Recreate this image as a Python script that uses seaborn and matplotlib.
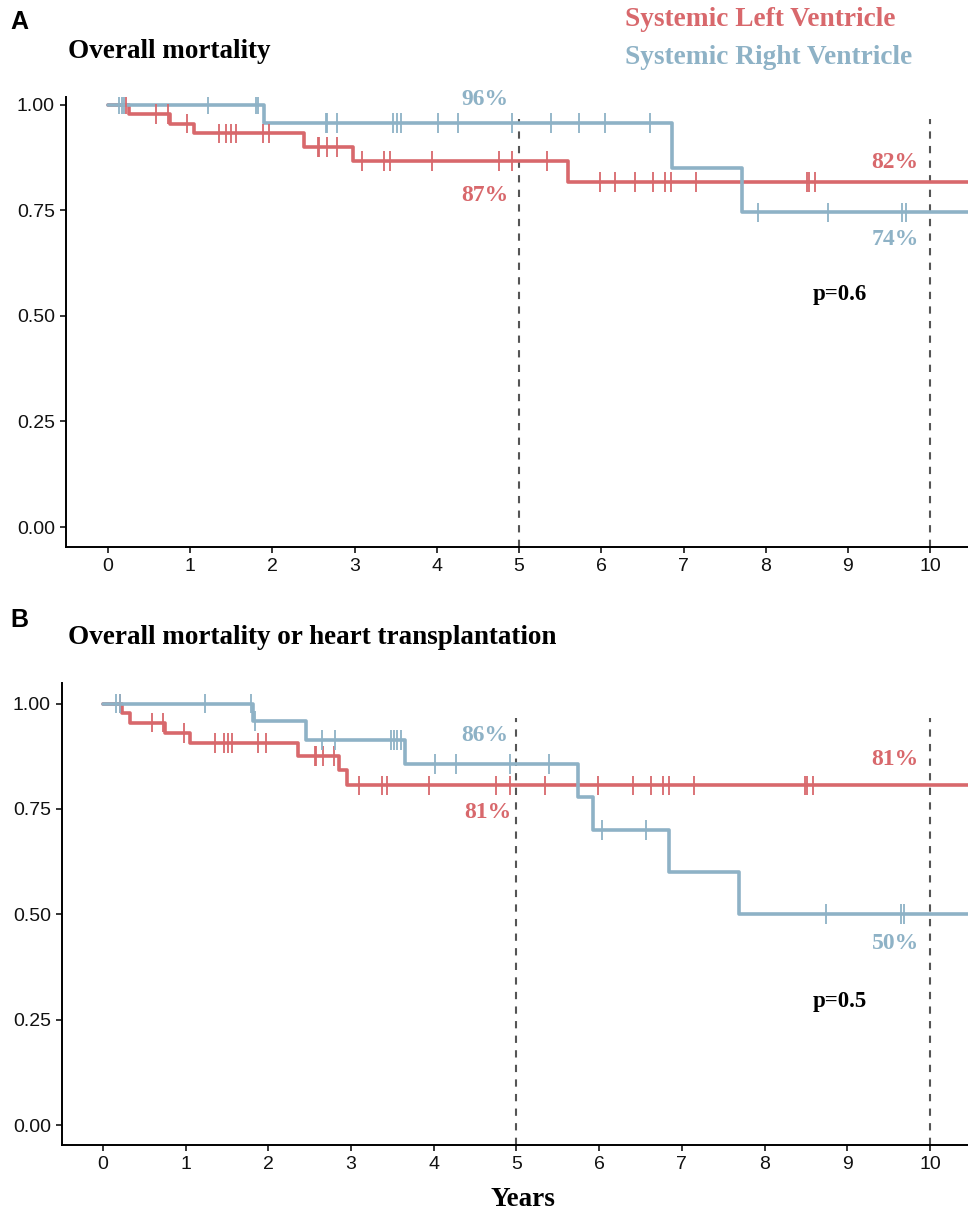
import numpy as np
import pandas as pd
import matplotlib
matplotlib.use("Agg")
import matplotlib.pyplot as plt
import seaborn as sns

sns.set_theme(style="ticks")
plt.rcParams['font.family'] = ['Liberation Sans', 'DejaVu Sans']
plt.rcParams['text.color'] = 'black'

RED = '#D8686C'
BLUE = '#8EB2C6'

# ---------------- Panel A: overall mortality ----------------
a_slv_event_t = [0.26, 0.75, 1.05, 2.38, 2.98, 5.60]
a_slv_surv = [0.978, 0.955, 0.932, 0.900, 0.867, 0.817]
a_slv_cens = [0.22, 0.58, 0.73, 0.965, 1.35, 1.44, 1.50, 1.56, 1.88, 1.96,
              2.55, 2.57, 2.66, 2.78, 3.09, 3.36, 3.43, 3.94, 4.75, 4.92, 5.34,
              5.99, 6.17, 6.41, 6.63, 6.77, 6.85, 7.15, 8.50, 8.53, 8.60]

a_srv_event_t = [1.90, 6.86, 7.71]
a_srv_surv = [0.957, 0.851, 0.745]
a_srv_cens = [0.14, 0.17, 0.20, 1.22, 1.80, 1.83, 2.65, 2.67, 2.78, 3.47, 3.52, 3.57,
              4.02, 4.26, 4.92, 5.39, 5.73, 6.05, 6.59, 7.91, 8.76, 9.66, 9.70]

# ---------------- Panel B: mortality or heart transplantation ----------------
b_slv_event_t = [0.23, 0.33, 0.75, 1.05, 2.36, 2.86, 2.95]
b_slv_surv = [0.978, 0.955, 0.930, 0.906, 0.876, 0.842, 0.806]
b_slv_cens = [0.20, 0.59, 0.73, 0.98, 1.36, 1.46, 1.51, 1.56, 1.88, 1.97,
              2.56, 2.58, 2.66, 2.79, 3.09, 3.37, 3.43, 3.94, 4.75, 4.92, 5.34,
              5.98, 6.41, 6.63, 6.77, 6.85, 7.15, 8.49, 8.51, 8.59]

b_srv_event_t = [1.82, 2.45, 3.65, 5.74, 5.92, 6.85, 7.69]
b_srv_surv = [0.959, 0.914, 0.857, 0.779, 0.700, 0.600, 0.500]
b_srv_cens = [0.16, 0.21, 1.23, 1.79, 1.84, 2.65, 2.80, 3.48, 3.52, 3.56, 3.60,
              4.02, 4.27, 4.92, 5.39, 6.04, 6.57, 8.74, 9.65, 9.69]

group_names = ['Systemic Left Ventricle', 'Systemic Right Ventricle']
x_ticks = list(range(0, 11))
y_ticks = [0.00, 0.25, 0.50, 0.75, 1.00]
END_T = 10.8

panels = [
    dict(letter='A', title='Overall mortality',
         slv=(a_slv_event_t, a_slv_surv, a_slv_cens),
         srv=(a_srv_event_t, a_srv_surv, a_srv_cens),
         labels=[('96%', 4.59, 1.012, BLUE), ('87%', 4.59, 0.785, RED),
                 ('82%', 9.57, 0.862, RED), ('74%', 9.57, 0.680, BLUE)],
         pval=('p=0.6', 8.90, 0.550),
         rect=[0.0682, 0.549, 0.9318, 0.371], xlim=(-0.51, 10.46), ylim=(-0.0475, 1.018)),
    dict(letter='B', title='Overall mortality or heart transplantation',
         slv=(b_slv_event_t, b_slv_surv, b_slv_cens),
         srv=(b_srv_event_t, b_srv_surv, b_srv_cens),
         labels=[('86%', 4.62, 0.924, BLUE), ('81%', 4.66, 0.742, RED),
                 ('81%', 9.58, 0.867, RED), ('50%', 9.58, 0.431, BLUE)],
         pval=('p=0.5', 8.91, 0.294),
         rect=[0.0640, 0.056, 0.9360, 0.381], xlim=(-0.496, 10.46), ylim=(-0.0475, 1.049)),
]


def step_frame(event_t, surv, name):
    t = [0.0] + list(event_t) + [END_T]
    s = [1.0] + list(surv) + [surv[-1]]
    return pd.DataFrame({'time': t, 'surv': s, 'group': name})


def censor_frame(event_t, surv, cens, name):
    t_all = np.array([0.0] + list(event_t))
    s_all = np.array([1.0] + list(surv))
    idx = np.searchsorted(t_all, np.array(cens), side='right') - 1
    return pd.DataFrame({'time': cens, 'surv': s_all[idx], 'group': name})


fig = plt.figure(figsize=(9.68, 12.13), dpi=100)
serif = ['Liberation Serif', 'DejaVu Serif']

for p in panels:
    ax = fig.add_axes(p['rect'])
    steps = pd.concat([step_frame(p['slv'][0], p['slv'][1], group_names[0]),
                       step_frame(p['srv'][0], p['srv'][1], group_names[1])])
    cens = pd.concat([censor_frame(*p['slv'], group_names[0]),
                      censor_frame(*p['srv'], group_names[1])])
    pal = {group_names[0]: RED, group_names[1]: BLUE}

    for x0 in (5, 10):
        ax.plot([x0, x0], [p['ylim'][0], 0.965], ls=(0, (3.5, 3.5)), color='#555555', lw=1.5, zorder=1)

    sns.lineplot(data=steps, x='time', y='surv', hue='group', palette=pal,
                 estimator=None, sort=False, drawstyle='steps-post', lw=2.6,
                 legend=False, ax=ax, zorder=3)
    sns.scatterplot(data=cens, x='time', y='surv', hue='group', palette=pal,
                    marker='|', s=200, linewidth=1.3, legend=False, ax=ax, zorder=4)

    ax.set_xlim(*p['xlim'])
    ax.set_ylim(*p['ylim'])
    ax.set_xticks(x_ticks)
    ax.set_yticks(y_ticks)
    ax.set_yticklabels([f'{v:.2f}' for v in y_ticks])
    ax.tick_params(axis='both', labelsize=14, length=4, width=1.1, colors='black', pad=4)
    for lab in ax.get_xticklabels() + ax.get_yticklabels():
        lab.set_color('#111111')
    sns.despine(ax=ax)
    for sp in ('left', 'bottom'):
        ax.spines[sp].set_linewidth(1.4)
        ax.spines[sp].set_color('black')
    ax.set_xlabel('')
    ax.set_ylabel('')

    for txt, x, y, c in p['labels']:
        ax.text(x, y, txt, color=c, fontsize=17, fontweight='bold', family=serif,
                ha='center', va='center')
    ax.text(p['pval'][1], p['pval'][2], p['pval'][0], color='black', fontsize=16.5,
            fontweight='bold', family=serif, ha='center', va='center')

# panel letters & titles
fig.text(10 / 968, 1 - 22 / 1213, 'A', fontsize=18, fontweight='bold', color='black',
         family=['Liberation Sans', 'DejaVu Sans'], ha='left', va='center')
fig.text(68 / 968, 1 - 52 / 1213, 'Overall mortality', fontsize=19.5, fontweight='bold',
         color='black', family=serif, ha='left', va='center')
fig.text(10 / 968, 1 - 620 / 1213, 'B', fontsize=18, fontweight='bold', color='black',
         family=['Liberation Sans', 'DejaVu Sans'], ha='left', va='center')
fig.text(68 / 968, 1 - 637 / 1213, 'Overall mortality or heart transplantation', fontsize=19.5,
         fontweight='bold', color='black', family=serif, ha='left', va='center')

# legend-like labels
fig.text(625 / 968, 1 - 20 / 1213, group_names[0], color=RED, fontsize=19.7, fontweight='bold',
         family=serif, ha='left', va='center')
fig.text(625 / 968, 1 - 57 / 1213, group_names[1], color=BLUE, fontsize=19.7, fontweight='bold',
         family=serif, ha='left', va='center')

fig.text(523 / 968, 1 - 1199 / 1213, 'Years', fontsize=19.5, fontweight='bold', color='black',
         family=serif, ha='center', va='center')

fig.savefig('out.png', dpi=100)
